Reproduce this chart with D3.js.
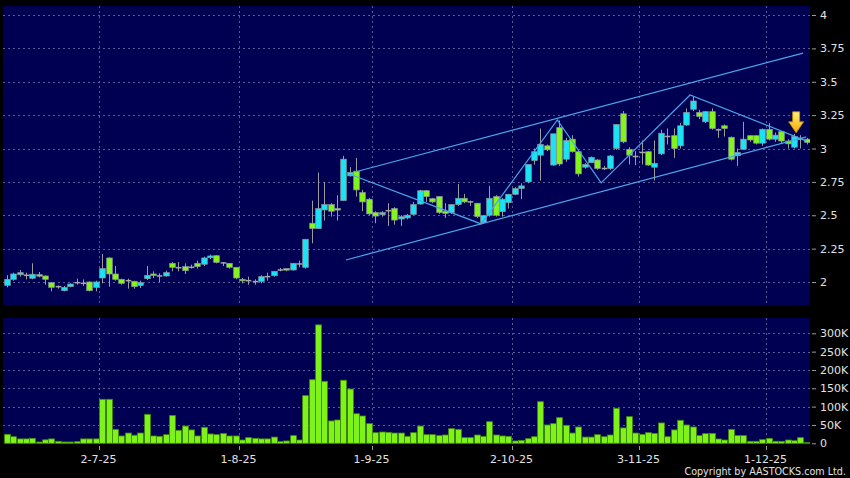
<!DOCTYPE html>
<html><head><meta charset="utf-8">
<script src="https://cdn.jsdelivr.net/npm/d3@7"></script>
<style>body{margin:0;background:#000;}svg{display:block;}</style>
</head><body>
<svg id="chart" width="850" height="478"></svg>
<script>
// ---------- DATA ----------
// trading days (day numbers per month, 2025)
const tradingDays = [
  ["6",  [11,12,13,16,17,18,19,20,23,24,25,26,27,30]],
  ["7",  [2,3,4,7,8,9,10,11,14,15,16,17,18,21,22,23,24,25,28,29,30,31]],
  ["8",  [1,4,5,6,7,8,11,12,13,14,15,18,19,20,21,22,25,26,27,28,29]],
  ["9",  [1,2,3,4,5,8,9,10,11,12,15,16,17,18,19,22,23,24,25,26,29,30]],
  ["10", [2,3,6,8,9,10,13,14,15,16,17,20,21,22,23,24,27,28,30,31]],
  ["11", [3,4,5,6,7,10,11,12,13,14,17,18,19,20,21,24,25,26,27,28]],
  ["12", [1,2,3,4,5,8,9,10]]
];
const dates = tradingDays.flatMap(([m, ds]) => ds.map(d => `${d}-${m}-25`));

const open = [1.975,2.02,2.055,2.05,2.028,2.055,2.045,1.995,1.965,1.935,1.965,1.995,1.99,2.0,1.96,2.03,2.18,2.06,2.02,2.01,
  2.005,1.975,2.025,2.06,2.045,2.045,2.14,2.107,2.115,2.11,2.14,2.133,2.182,2.197,2.143,2.14,2.11,2.02,2.01,2.003,
  2.005,2.04,2.047,2.09,2.10,2.09,2.135,2.11,2.44,2.40,2.54,2.58,2.55,2.61,2.795,2.83,2.67,2.62,2.52,2.505,
  2.534,2.55,2.472,2.48,2.507,2.584,2.684,2.624,2.64,2.53,2.52,2.58,2.627,2.60,2.59,2.444,2.50,2.64,2.527,2.594,
  2.657,2.70,2.75,2.91,2.95,3.02,2.876,3.156,2.92,3.07,2.976,2.86,2.894,2.914,2.85,2.85,3.0,3.26,2.994,2.94,
  2.97,2.976,2.86,2.96,3.09,3.096,3.02,3.176,3.294,3.27,3.2,3.276,3.14,3.17,3.084,2.946,2.994,3.096,3.096,3.04,
  3.144,3.07,3.126,3.056,3.01,3.07,3.07];
const high = [2.05,2.07,2.09,2.07,2.14,2.075,2.05,2.0,1.975,1.97,1.99,2.025,2.02,2.005,2.01,2.21,2.185,2.12,2.025,2.025,
  2.01,2.01,2.12,2.08,2.065,2.085,2.15,2.15,2.14,2.13,2.16,2.19,2.205,2.20,2.15,2.14,2.11,2.03,2.04,2.02,
  2.05,2.07,2.08,2.105,2.10,2.14,2.16,2.32,2.61,2.82,2.75,2.59,2.65,2.945,2.86,2.93,2.69,2.63,2.53,2.53,
  2.59,2.56,2.50,2.51,2.60,2.69,2.69,2.63,2.64,2.59,2.58,2.734,2.66,2.61,2.59,2.50,2.72,2.65,2.63,2.66,
  2.71,2.74,2.88,3.0,3.15,3.03,3.11,3.21,3.08,3.10,2.98,2.89,2.94,2.92,2.87,2.95,3.18,3.28,3.01,2.98,
  3.06,2.98,3.06,3.14,3.15,3.15,3.19,3.30,3.39,3.29,3.28,3.30,3.15,3.18,3.09,3.0,3.20,3.10,3.10,3.15,
  3.19,3.12,3.13,3.07,3.11,3.10,3.08];
const low = [1.96,2.01,2.04,2.02,2.02,2.035,1.98,1.93,1.95,1.93,1.96,1.98,1.97,1.93,1.93,1.99,1.965,2.01,1.98,1.95,
  1.95,1.955,2.015,2.03,2.0,2.04,2.08,2.08,2.06,2.10,2.10,2.12,2.17,2.14,2.12,2.10,2.02,1.99,1.98,1.98,
  1.99,2.01,2.04,2.08,2.08,2.085,2.11,2.10,2.29,2.40,2.46,2.49,2.46,2.61,2.79,2.64,2.53,2.50,2.44,2.49,
  2.42,2.43,2.42,2.47,2.50,2.58,2.60,2.59,2.51,2.48,2.51,2.57,2.59,2.57,2.48,2.44,2.49,2.49,2.49,2.55,
  2.65,2.62,2.74,2.88,2.76,2.98,2.87,2.87,2.90,2.97,2.79,2.85,2.89,2.84,2.84,2.84,2.99,3.04,2.88,2.875,
  2.88,2.87,2.76,2.95,3.03,2.93,3.0,3.17,3.28,3.22,3.19,3.14,3.08,3.09,2.91,2.87,2.99,3.05,3.03,3.02,
  3.06,3.05,3.04,3.0,3.0,3.0,3.03];
const close = [2.02,2.06,2.07,2.05,2.058,2.045,2.02,1.96,1.965,1.96,1.985,1.995,1.99,1.935,2.0,2.10,2.06,2.02,1.99,2.01,
  1.965,1.995,2.05,2.055,2.045,2.07,2.11,2.107,2.085,2.11,2.115,2.18,2.195,2.147,2.143,2.11,2.03,2.015,2.01,2.003,
  2.04,2.04,2.08,2.09,2.09,2.14,2.135,2.32,2.40,2.55,2.58,2.53,2.545,2.92,2.82,2.69,2.60,2.51,2.494,2.52,
  2.534,2.464,2.489,2.50,2.58,2.684,2.64,2.60,2.52,2.514,2.58,2.627,2.60,2.60,2.49,2.497,2.627,2.50,2.62,2.657,
  2.70,2.72,2.88,2.976,3.03,2.99,3.11,2.884,3.06,2.976,2.81,2.88,2.934,2.85,2.85,2.944,3.18,3.05,2.95,2.94,
  2.97,2.876,2.889,3.114,3.09,3.0,3.17,3.27,3.356,3.24,3.276,3.15,3.14,3.15,2.92,2.97,3.07,3.064,3.04,3.144,
  3.07,3.10,3.056,3.035,3.09,3.07,3.045];
const volume = [24500,18000,12000,12000,13600,3600,9500,12000,5500,3600,3600,4500,12000,12000,12000,120000,120000,38000,20000,28000,
  22000,28000,79000,20000,19000,23600,76000,35500,47000,36500,20000,43600,25500,23600,27000,20000,20000,9000,15500,13600,
  12000,12000,17000,5000,6400,21000,9000,130000,173500,323000,169000,61000,63600,172000,148000,80700,74500,53600,29000,30800,
  30000,28000,28000,19000,29000,47000,23600,23600,21000,22700,40000,38000,15500,15500,22700,19000,59000,22700,20000,19000,
  6400,8000,12700,18000,113500,50000,53600,70000,49000,28000,44500,17000,17000,23600,18000,22700,95500,42000,72700,28000,
  24500,29000,27000,55500,18000,36500,62700,50000,44500,21000,26400,27000,11800,9000,38000,21000,21000,5500,5500,10000,
  13600,5500,5500,9000,7000,15500,2000];

const priceTicks = [2, 2.25, 2.5, 2.75, 3, 3.25, 3.5, 3.75, 4];
const volumeTicks = [0, 50000, 100000, 150000, 200000, 250000, 300000];
const dateTickLabels = ["2-7-25", "1-8-25", "1-9-25", "2-10-25", "3-11-25", "1-12-25"];

// drawn trend lines: [bar index, price]
const upperChannel = [[54.8, 2.824], [125.4, 3.715]];
const lowerChannel = [[53.4, 2.165], [125.9, 3.087]];
const zigzag = [[53.9, 2.809], [74.7, 2.435], [86.7, 3.214], [93.6, 2.742], [107.6, 3.401], [125.9, 3.057]];
const arrowBar = 124;

// ---------- LAYOUT ----------
const W = 850, H = 478;
const L = {left: 3.8, right: 810, pTop: 6, pBot: 305, vTop: 318, vBot: 444};
const C = {bg: "#000", panel: "#000052", grid: "#5a5a98", up: "#19e3f5", down: "#84f51b",
           doji: "#a8a8a8", wick: "#9c9c9c", vol: "#7ff21a", volStroke: "#3f8a08",
           trend: "#4aa6ec", text: "#e2e2e2", tick: "#9a9a9a"};

const svg = d3.select("#chart");
svg.append("rect").attr("width", W).attr("height", H).attr("fill", C.bg);

const n = dates.length;
const x = d3.scaleBand().domain(dates).range([L.left, L.right]).paddingInner(0).paddingOuter(0);
const bw = x.bandwidth();
const xc = d => x(d) + bw / 2;
const xi = d3.scaleLinear().domain([0, n - 1]).range([xc(dates[0]), xc(dates[n - 1])]);
const yP = d3.scaleLinear().domain([2, 4]).range([282, 15]);
const yV = d3.scaleLinear().domain([0, 300000]).range([443.3, 333.3]);

// panels
svg.append("rect").attr("x", 3).attr("y", L.pTop).attr("width", L.right - 3).attr("height", L.pBot - L.pTop).attr("fill", C.panel);
svg.append("rect").attr("x", 3).attr("y", L.vTop).attr("width", L.right - 3).attr("height", L.vBot - L.vTop).attr("fill", C.panel);

const defs = svg.append("defs");
defs.append("clipPath").attr("id", "clipP").append("rect").attr("x", 3).attr("y", L.pTop).attr("width", L.right - 3).attr("height", L.pBot - L.pTop);
defs.append("clipPath").attr("id", "clipV").append("rect").attr("x", 3).attr("y", L.vTop).attr("width", L.right - 3).attr("height", L.vBot - L.vTop);

// grid
const grid = svg.append("g").attr("stroke", C.grid).attr("stroke-width", 1).attr("stroke-dasharray", "2,3").attr("fill", "none");
grid.selectAll(".hp").data(priceTicks).join("line")
  .attr("x1", 3).attr("x2", L.right).attr("y1", d => Math.round(yP(d)) + 0.5).attr("y2", d => Math.round(yP(d)) + 0.5);
grid.selectAll(".hv").data(volumeTicks.slice(1)).join("line")
  .attr("x1", 3).attr("x2", L.right).attr("y1", d => Math.round(yV(d)) + 0.5).attr("y2", d => Math.round(yV(d)) + 0.5);
const tickX = d => Math.round(x(d) + bw) + 0.5;
dateTickLabels.forEach(d => {
  grid.append("line").attr("x1", tickX(d)).attr("x2", tickX(d)).attr("y1", L.pTop).attr("y2", L.pBot);
  grid.append("line").attr("x1", tickX(d)).attr("x2", tickX(d)).attr("y1", L.vTop).attr("y2", L.vBot);
});

// candles
const bars = dates.map((d, i) => ({d, o: open[i], h: high[i], l: low[i], c: close[i], v: volume[i]}));
const gP = svg.append("g").attr("clip-path", "url(#clipP)");
const bodyW = 5.6;
gP.selectAll(".wick").data(bars).join("line")
  .attr("x1", d => Math.round(xc(d.d)) + 0.5).attr("x2", d => Math.round(xc(d.d)) + 0.5)
  .attr("y1", d => yP(d.h)).attr("y2", d => yP(d.l))
  .attr("stroke", C.wick).attr("stroke-width", 1);
gP.selectAll(".body").data(bars).join("rect")
  .attr("x", d => Math.round(xc(d.d)) + 0.5 - bodyW / 2)
  .attr("y", d => d.o === d.c ? yP(d.o) - 0.75 : yP(Math.max(d.o, d.c)))
  .attr("width", bodyW)
  .attr("height", d => d.o === d.c ? 1.5 : Math.max(1.5, Math.abs(yP(d.o) - yP(d.c))))
  .attr("fill", d => d.c > d.o ? C.up : d.c < d.o ? C.down : C.doji)
  .attr("stroke", d => d.o === d.c ? "none" : "#8a9a9a").attr("stroke-width", 0.7);

// trend lines
const line = d3.line().x(p => xi(p[0])).y(p => yP(p[1]));
const gT = gP.append("g").attr("fill", "none").attr("stroke", C.trend).attr("stroke-width", 1.2);
[upperChannel, lowerChannel, zigzag].forEach(pts => gT.append("path").attr("d", line(pts)));

// arrow
const grad = defs.append("linearGradient").attr("id", "arrowGrad").attr("x1", 0).attr("y1", 0).attr("x2", 0).attr("y2", 1);
grad.append("stop").attr("offset", "0%").attr("stop-color", "#fff07a");
grad.append("stop").attr("offset", "100%").attr("stop-color", "#f2a900");
const ax = xc(dates[arrowBar]) + 2, ay = yP(high[arrowBar]) - 1;
svg.append("path")
  .attr("d", `M${ax},${ay} L${ax - 7.5},${ay - 11} L${ax - 3.5},${ay - 11} L${ax - 3.5},${ay - 21} L${ax + 3.5},${ay - 21} L${ax + 3.5},${ay - 11} L${ax + 7.5},${ay - 11} Z`)
  .attr("fill", "url(#arrowGrad)").attr("stroke", "#c98a00").attr("stroke-width", 0.8);

// volume bars
const gV = svg.append("g").attr("clip-path", "url(#clipV)");
gV.selectAll(".vb").data(bars).join("rect")
  .attr("x", d => Math.round(xc(d.d)) + 0.5 - 2.9)
  .attr("y", d => yV(d.v)).attr("width", 5.8)
  .attr("height", d => Math.max(0.5, yV(0) - yV(d.v)))
  .attr("fill", C.vol).attr("stroke", C.volStroke).attr("stroke-width", 0.8);

// axes
const font = "DejaVu Sans, Verdana, sans-serif";
function styleAxis(g) {
  g.select(".domain").remove();
  g.selectAll(".tick line").attr("stroke", C.tick);
  g.selectAll(".tick text").attr("fill", C.text).attr("font-family", font).attr("font-size", 11);
}
svg.append("g").attr("transform", `translate(812,0)`)
  .call(d3.axisRight(yP).tickValues(priceTicks).tickSize(4).tickPadding(4).tickFormat(d => String(d)))
  .call(styleAxis);
svg.append("g").attr("transform", `translate(812,0)`)
  .call(d3.axisRight(yV).tickValues(volumeTicks).tickSize(4).tickPadding(4).tickFormat(d => d === 0 ? "0" : (d / 1000) + "K"))
  .call(styleAxis);

const gX = svg.append("g");
dateTickLabels.forEach(d => {
  gX.append("line").attr("x1", tickX(d)).attr("x2", tickX(d)).attr("y1", 446).attr("y2", 450).attr("stroke", C.tick);
  gX.append("text").attr("x", tickX(d) - 1).attr("y", 463).attr("text-anchor", "middle")
    .attr("fill", C.text).attr("font-family", font).attr("font-size", 11).text(d);
});

svg.append("text").attr("x", 846).attr("y", 475).attr("text-anchor", "end")
  .attr("fill", C.text).attr("font-family", font).attr("font-size", 9.6)
  .text("Copyright by AASTOCKS.com Ltd.");
</script>
</body></html>
